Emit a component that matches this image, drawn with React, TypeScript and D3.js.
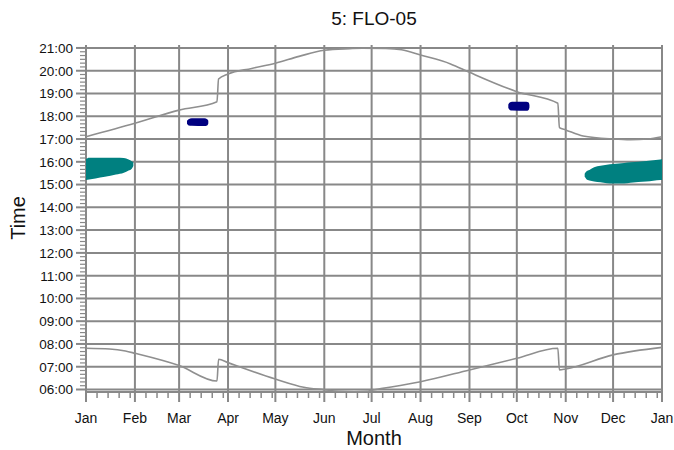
import { useEffect, useRef } from "react"
import * as d3 from "d3"

// day-of-year of each month start, and the tick labels
const monthDays = [0, 31, 59, 90, 120, 151, 181, 212, 243, 273, 304, 334, 365]
const monthLabels = ["Jan", "Feb", "Mar", "Apr", "May", "Jun", "Jul", "Aug", "Sep", "Oct", "Nov", "Dec", "Jan"]
const hourTicks = [6, 7, 8, 9, 10, 11, 12, 13, 14, 15, 16, 17, 18, 19, 20, 21]

// sunset [day, hour]
const sunset: [number, number][] = [
  [0, 17.1], [31, 17.69], [59, 18.27], [83, 18.64], [84, 19.64], [90, 19.86],
  [105, 20.1], [120, 20.33], [135, 20.63], [151, 20.9], [167, 20.97], [175, 20.99], [190, 20.98],
  [200, 20.92], [212, 20.69], [231, 20.3], [243, 19.93], [273, 19.08], [299, 18.57],
  [300, 17.5], [304, 17.4], [315, 17.13], [334, 17.0], [345, 16.97], [356, 17.0], [365, 17.1],
]

// sunrise [day, hour]
const sunrise: [number, number][] = [
  [0, 7.81], [15, 7.78], [25, 7.69], [31, 7.59], [59, 7.05], [83, 6.37], [84, 7.33],
  [90, 7.18], [120, 6.46], [138, 6.1], [151, 5.99], [160, 5.92], [170, 5.9], [178, 5.92],
  [181, 5.97], [188, 6.05], [212, 6.34], [243, 6.86], [273, 7.37], [299, 7.81], [300, 6.86],
  [304, 6.9], [334, 7.52], [365, 7.85],
]

// shadow periods [day, top hour, bottom hour]
const teal1: [number, number, number][] = [
  [0, 16.12, 15.2], [2, 16.18, 15.22], [6, 16.18, 15.27], [12, 16.18, 15.34], [19, 16.18, 15.44],
  [24, 16.17, 15.52], [27, 16.1, 15.62], [29, 16.02, 15.7], [30, 15.98, 15.82],
]
const teal2: [number, number, number][] = [
  [316, 15.48, 15.34], [317, 15.57, 15.25], [319, 15.64, 15.18], [322, 15.76, 15.14],
  [326, 15.83, 15.1], [330, 15.87, 15.06], [334, 15.9, 15.05], [341, 15.95, 15.05],
  [345, 15.98, 15.08], [355, 16.04, 15.13], [364, 16.1, 15.2], [365, 16.11, 15.2],
]
const navy1: [number, number, number][] = [
  [64, 17.8, 17.67], [65, 17.87, 17.6], [67, 17.91, 17.58], [75, 17.91, 17.57], [77, 17.86, 17.61], [77.5, 17.8, 17.68],
]
const navy2: [number, number, number][] = [
  [267.6, 18.52, 18.36], [268.5, 18.6, 18.28], [270, 18.64, 18.25], [279, 18.64, 18.24], [280.5, 18.6, 18.28], [281, 18.5, 18.38],
]

const W = 674
const H = 450
const FONT = "'Liberation Sans', Arial, sans-serif"
const GRID = "#888"

export default function App() {
  const ref = useRef<SVGSVGElement>(null)

  useEffect(() => {
    if (!ref.current) return
    const svg = d3.select(ref.current)
    svg.selectAll("*").remove()

    const x = d3.scaleLinear().domain([0, 365]).range([86, 662])
    const y = d3.scaleLinear().domain([5.89, 21.13]).range([392, 45])

    // gridlines
    const grid = svg.append("g")
    grid.selectAll("line.v").data(monthDays).enter().append("line")
      .attr("x1", (d) => x(d)).attr("x2", (d) => x(d))
      .attr("y1", y(21.13)).attr("y2", y(5.89))
      .attr("stroke", GRID).attr("stroke-width", 2)
    grid.selectAll("line.h").data(hourTicks).enter().append("line")
      .attr("x1", x(0)).attr("x2", x(365))
      .attr("y1", (d) => y(d)).attr("y2", (d) => y(d))
      .attr("stroke", GRID).attr("stroke-width", 2)
    grid.append("line")
      .attr("x1", x(0)).attr("x2", x(365)).attr("y1", y(5.89)).attr("y2", y(5.89))
      .attr("stroke", GRID).attr("stroke-width", 2)

    // shaded areas
    const area = d3.area<[number, number, number]>()
      .x((d) => x(d[0])).y0((d) => y(d[2])).y1((d) => y(d[1]))
      .curve(d3.curveMonotoneX)
    ;[teal1, teal2].forEach((s) =>
      svg.append("path").datum(s).attr("d", area).attr("fill", "#008080"))
    ;[navy1, navy2].forEach((s) =>
      svg.append("path").datum(s).attr("d", area).attr("fill", "#000080"))

    // sunrise / sunset
    const line = d3.line<[number, number]>()
      .x((d) => x(d[0])).y((d) => y(d[1]))
      .curve(d3.curveMonotoneX)
    ;[sunset, sunrise].forEach((s) =>
      svg.append("path").datum(s).attr("d", line)
        .attr("fill", "none").attr("stroke", "#8f8f8f").attr("stroke-width", 1.6))

    // x axis ticks
    const minor: number[] = []
    monthDays.slice(0, -1).forEach((m, i) => {
      for (let k = 7; m + k < monthDays[i + 1] - 1; k += 7) minor.push(m + k)
    })
    const ax = svg.append("g")
    ax.selectAll("line.mj").data(monthDays).enter().append("line")
      .attr("x1", (d) => x(d)).attr("x2", (d) => x(d))
      .attr("y1", 392).attr("y2", 402)
      .attr("stroke", GRID).attr("stroke-width", 2)
    ax.selectAll("line.mn").data(minor).enter().append("line")
      .attr("x1", (d) => x(d)).attr("x2", (d) => x(d))
      .attr("y1", 392).attr("y2", 398)
      .attr("stroke", GRID).attr("stroke-width", 1.5)
    ax.selectAll("text").data(monthDays).enter().append("text")
      .attr("x", (d) => x(d)).attr("y", 423)
      .attr("text-anchor", "middle")
      .style("font-family", FONT).style("font-size", "14px").style("fill", "#111")
      .text((d, i) => monthLabels[i])

    // y axis ticks
    const yMinor: number[] = []
    hourTicks.slice(0, -1).forEach((h) => {
      for (let k = 1; k < 6; k++) yMinor.push(h + k / 6)
    })
    const ay = svg.append("g")
    ay.selectAll("line.mj").data(hourTicks).enter().append("line")
      .attr("x1", 76).attr("x2", 86)
      .attr("y1", (d) => y(d)).attr("y2", (d) => y(d))
      .attr("stroke", GRID).attr("stroke-width", 2)
    ay.selectAll("line.mn").data(yMinor).enter().append("line")
      .attr("x1", 80).attr("x2", 86)
      .attr("y1", (d) => y(d)).attr("y2", (d) => y(d))
      .attr("stroke", GRID).attr("stroke-width", 1.2)
    ay.selectAll("text").data(hourTicks).enter().append("text")
      .attr("x", 73).attr("y", (d) => y(d)).attr("dy", "0.36em")
      .attr("text-anchor", "end")
      .style("font-family", FONT).style("font-size", "13.5px").style("fill", "#111")
      .text((d) => `${String(d).padStart(2, "0")}:00`)

    // titles
    svg.append("text").attr("x", 374).attr("y", 25).attr("text-anchor", "middle")
      .style("font-family", FONT).style("font-size", "19px").style("fill", "#111")
      .text("5: FLO-05")
    svg.append("text").attr("x", 374).attr("y", 445).attr("text-anchor", "middle")
      .style("font-family", FONT).style("font-size", "20px").style("fill", "#111")
      .text("Month")
    svg.append("text")
      .attr("transform", `translate(25,218) rotate(-90)`).attr("text-anchor", "middle")
      .style("font-family", FONT).style("font-size", "20px").style("fill", "#111")
      .text("Time")
  }, [])

  return (
    <svg ref={ref} width={W} height={H}
      style={{ position: "absolute", left: 0, top: 0, background: "#fff" }} />
  )
}
